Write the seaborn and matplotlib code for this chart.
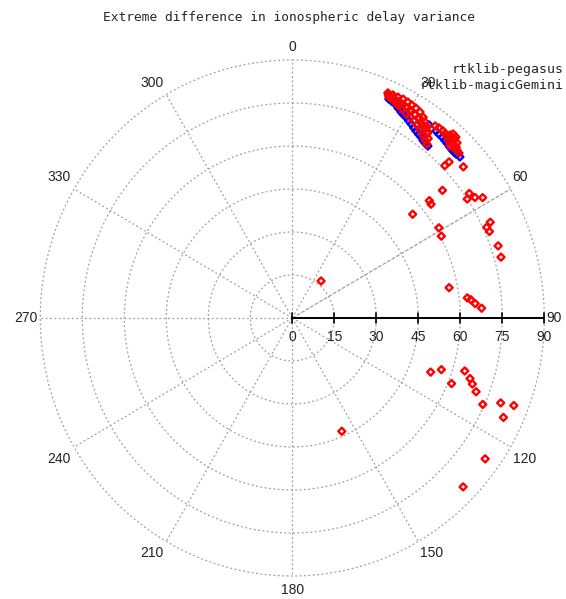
import numpy as np
import pandas as pd
import matplotlib
matplotlib.use('Agg')
import matplotlib.pyplot as plt
import seaborn as sns

title = 'Extreme difference in ionospheric delay variance'
series_names = ['rtklib-pegasus', 'rtklib-magicGemini']
series_colors = ['#0000ff', '#ff0000']

# azimuth (deg, clockwise from north) and radial value
pegasus_az = [24.3, 26.2, 28.4, 30.1, 32.1, 34.1, 36.1, 37.8, 38.9,
              35.9, 38.2, 40.3, 42.2, 44.2, 45.6, 46.8,
              25.2, 27.3, 29.2, 31.1, 33.1, 35.1, 37.0, 39.2, 41.3, 43.2, 45.0]
pegasus_r = [83.8, 83.2, 81.7, 81.0, 79.9, 78.8, 78.1, 77.3, 77.1,
             83.2, 83.0, 82.7, 82.3, 81.8, 81.8, 82.1,
             83.5, 82.4, 81.3, 80.4, 79.3, 78.4, 77.6, 82.8, 82.5, 82.0, 81.8]

gemini_az = [23.5, 24.8, 26.1, 27.4, 28.7, 29.9, 31.1, 32.4, 33.7, 34.7, 35.8, 36.8,
             24.1, 25.6, 26.9, 28.3, 29.6, 31.0, 32.3, 33.5, 34.8, 36.2, 37.4, 38.4,
             27.3, 30.1, 32.8, 34.7,
             23.8, 25.2, 26.5, 27.8, 29.2, 30.5, 31.7, 33.0, 34.2, 35.5, 36.8, 37.8,
             37.3, 38.3, 39.5, 41.2, 41.4, 41.8, 42.8, 42.2, 43.1, 43.9, 43.2, 44.2, 45.1, 46.0,
             40.3, 42.0, 42.6, 44.5,
             38.5, 155.9, 110.9, 108.7, 106.7, 111.9, 108.4, 109.7, 111.4, 113.9, 111.7,
             111.1, 114.7, 125.5, 134.0,
             45.8, 45.7, 49.2, 50.3, 50.1, 51.3, 49.9, 55.5, 56.4, 57.2, 58.3, 64.7, 65.5,
             66.8, 59.0, 61.8, 71.1, 74.1, 79.3, 83.6, 84.3, 85.6, 87.1]
gemini_r = [85.6, 85.7, 85.8, 86.0, 85.9, 85.7, 85.5, 85.1, 84.2, 83.2, 82.2, 81.0,
            84.5, 84.0, 83.3, 82.8, 82.2, 81.7, 81.3, 80.7, 79.9, 79.1, 78.1, 77.4,
            84.0, 83.9, 83.0, 81.4,
            85.0, 84.8, 84.5, 84.4, 84.0, 83.7, 83.4, 83.2, 82.1, 81.3, 80.3, 79.2,
            84.2, 84.5, 84.6, 83.9, 85.1, 86.1, 86.0, 83.3, 84.0, 84.8, 82.3, 82.8, 83.0, 82.8,
            84.3, 84.6, 85.2, 83.5,
            16.5, 43.3, 52.9, 56.2, 64.3, 61.3, 66.9, 68.3, 70.5, 74.4, 80.1,
            84.8, 83.0, 84.6, 84.8,
            78.1, 76.1, 80.7, 69.7, 63.8, 63.5, 56.2, 76.7, 75.0, 77.6, 79.9, 78.2, 76.3,
            76.6, 61.1, 60.4, 77.7, 77.5, 57.0, 62.9, 64.1, 65.5, 67.7]

r_ticks = [0, 15, 30, 45, 60, 75, 90]
az_ticks = [0, 30, 60, 90, 120, 150, 180, 210, 240, 270, 300, 330]
az_labels = ['0', '30', '60', '90', '120', '150', '180', '210', '240', '270', '330', '300']

frames = []
for name, az, r in [(series_names[0], pegasus_az, pegasus_r),
                    (series_names[1], gemini_az, gemini_r)]:
    d = pd.DataFrame({'az': az, 'r': r})
    d['series'] = name
    frames.append(d)
df = pd.concat(frames, ignore_index=True)
df['x'] = df['r'] * np.sin(np.radians(df['az']))
df['y'] = df['r'] * np.cos(np.radians(df['az']))

sns.set_style('white')
fig = plt.figure(figsize=(5.66, 5.99), dpi=100)
ax = fig.add_axes([0, 0, 1, 1])
ax.axis('off')

grid_kw = dict(color='#a0a0a0', lw=0.9, ls=(0, (1.5, 2.0)), zorder=1)
t = np.linspace(0, 2 * np.pi, 721)
rmax = r_ticks[-1]
for rr in r_ticks[1:]:
    ax.plot(rr * np.sin(t), rr * np.cos(t), **grid_kw)
for a in az_ticks:
    if a == 90:
        continue
    s, c = np.sin(np.radians(a)), np.cos(np.radians(a))
    kw = dict(grid_kw)
    if a == 60:
        kw['ls'] = (0, (3, 1.2))
    ax.plot([0, rmax * s], [0, rmax * c], **kw)

# angular labels
for a, lab in zip(az_ticks, az_labels):
    s, c = np.sin(np.radians(a)), np.cos(np.radians(a))
    ha = 'center' if abs(s) < 0.1 else ('left' if s > 0 else 'right')
    va = 'center' if abs(c) < 0.1 else ('bottom' if c > 0 else 'top')
    dx = 0 if ha == 'center' else (2 if s > 0 else -3)
    dy = 0 if va == 'center' else (5 if c > 0 else -5)
    if ha == 'center':
        dy = 6 if c > 0 else -7
    ax.annotate(lab, (rmax * s, rmax * c), xytext=(dx, dy), textcoords='offset pixels',
                ha=ha, va=va, fontsize=10, family='Liberation Sans', color='#222222')

# radial axis
ax.plot([0, rmax], [0, 0], color='black', lw=1.4, zorder=3)
for rr in r_ticks:
    ax.plot([rr, rr], [-1.75, 1.75], color='black', lw=1.2, zorder=3)
    ax.text(rr, -6.6, str(rr), ha='center', va='center', fontsize=10,
            family='Liberation Sans', color='#222222')

for name, col in zip(series_names, series_colors):
    sns.scatterplot(data=df[df['series'] == name], x='x', y='y', ax=ax, marker='D',
                    s=13, color=col, facecolor='none', edgecolor=col, linewidth=1.7,
                    zorder=4, legend=False)
ax.set_xlim(-104.39, 97.75)
ax.set_ylim(-98.02, 110.93)
ax.axis('off')

fig.text(289 / 566, 1 - 17 / 599, title, ha='center', va='center', fontsize=9.3,
         family='DejaVu Sans Mono')
fig.text(564 / 566, 1 - 70 / 599, series_names[0], ha='right', va='center',
         fontsize=9.5, family='DejaVu Sans Mono')
fig.text(564 / 566, 1 - 85 / 599, series_names[1], ha='right', va='center',
         fontsize=9.5, family='DejaVu Sans Mono')

fig.savefig('out.png', dpi=100)
